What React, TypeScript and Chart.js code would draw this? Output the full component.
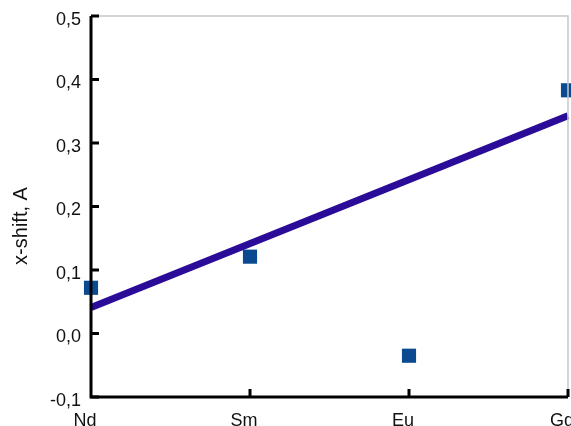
import React, { useEffect, useRef } from "react";
import { Chart, registerables } from "chart.js";

Chart.register(...registerables);

const categories = ["Nd", "Sm", "Eu", "Gd"];
const shiftValues = [0.072, 0.121, -0.035, 0.383];
const fitLine = [0.041, 0.343];
const yTicks = [-0.1, 0, 0.1, 0.2, 0.3, 0.4, 0.5];
const yTitle = "x-shift, A";

const FONT = "'Liberation Sans', Arial, sans-serif";

const framePlugin = {
  id: "frame",
  afterDatasetsDraw(chart: any) {
    const { ctx, chartArea, scales } = chart;
    const { left, right, top, bottom } = chartArea;
    ctx.save();
    ctx.strokeStyle = "#c8c8c8";
    ctx.lineWidth = 1.5;
    ctx.beginPath();
    ctx.moveTo(left, top);
    ctx.lineTo(right, top);
    ctx.lineTo(right, bottom);
    ctx.stroke();
    ctx.strokeStyle = "#000";
    ctx.lineWidth = 3;
    ctx.beginPath();
    ctx.moveTo(left, top);
    ctx.lineTo(left, bottom);
    ctx.lineTo(right, bottom);
    ctx.stroke();
    ctx.beginPath();
    yTicks.forEach((v) => {
      const y = scales.y.getPixelForValue(v);
      ctx.moveTo(left, y);
      ctx.lineTo(left + 8, y);
    });
    categories.forEach((_, i) => {
      if (i === 0) return;
      const x = scales.x.getPixelForValue(i);
      ctx.moveTo(x, bottom);
      ctx.lineTo(x, bottom - 8);
    });
    ctx.stroke();
    ctx.fillStyle = "#111";
    ctx.font = `20px ${FONT}`;
    ctx.textAlign = "center";
    ctx.textBaseline = "middle";
    ctx.translate(21, 226);
    ctx.rotate(-Math.PI / 2);
    ctx.fillText(yTitle, 0, 0);
    ctx.restore();
  },
};

export default function App() {
  const ref = useRef<HTMLCanvasElement | null>(null);
  useEffect(() => {
    if (!ref.current) return;
    const chart = new Chart(ref.current, {
      type: "scatter",
      data: {
        datasets: [
          {
            type: "line",
            data: [
              { x: 0, y: fitLine[0] },
              { x: categories.length - 1, y: fitLine[1] },
            ],
            borderColor: "#2a0c98",
            borderWidth: 7,
            pointRadius: 0,
            fill: false,
            clip: false as any,
          },
          {
            type: "scatter",
            data: shiftValues.map((v, i) => ({ x: i, y: v })),
            pointStyle: "rect",
            pointRadius: 10,
            backgroundColor: "#0b4a90",
            borderColor: "#0b4a90",
            borderWidth: 0,
            clip: false as any,
          },
        ],
      },
      options: {
        animation: false,
        responsive: false,
        maintainAspectRatio: false,
        layout: { autoPadding: false, padding: { top: 16, right: 3, left: 0, bottom: 0 } },
        plugins: { legend: { display: false }, tooltip: { enabled: false } },
        scales: {
          x: {
            type: "linear",
            min: 0,
            max: categories.length - 1,
            border: { display: false },
            grid: { display: false, drawTicks: false },
            afterFit: (s: any) => {
              s.height = 29;
              s.paddingLeft = 0;
              s.paddingRight = 0;
            },
            afterBuildTicks: (s: any) => {
              s.ticks = categories.map((_, i) => ({ value: i }));
            },
            ticks: {
              padding: 13,
              labelOffset: -6,
              color: "#111",
              font: { family: FONT, size: 18 },
              maxRotation: 0,
              autoSkip: false,
              callback: (v: any) => categories[v as number] ?? "",
            },
          },
          y: {
            min: -0.1,
            max: 0.5,
            border: { display: false },
            grid: { display: false, drawTicks: false },
            afterFit: (s: any) => {
              s.width = 91;
              s.paddingTop = 0;
              s.paddingBottom = 0;
            },
            afterBuildTicks: (s: any) => {
              s.ticks = yTicks.map((v) => ({ value: v }));
            },
            ticks: {
              padding: 10,
              labelOffset: 4,
              color: "#111",
              font: { family: FONT, size: 18 },
              callback: (v: any) => (v as number).toFixed(1).replace(".", ","),
            },
          },
        },
      },
      plugins: [framePlugin],
    });
    return () => chart.destroy();
  }, []);
  return (
    <div style={{ position: "fixed", left: 0, top: 0, width: 571, height: 426, background: "#fff" }}>
      <canvas ref={ref} width={571} height={426} style={{ width: 571, height: 426 }} />
    </div>
  );
}
